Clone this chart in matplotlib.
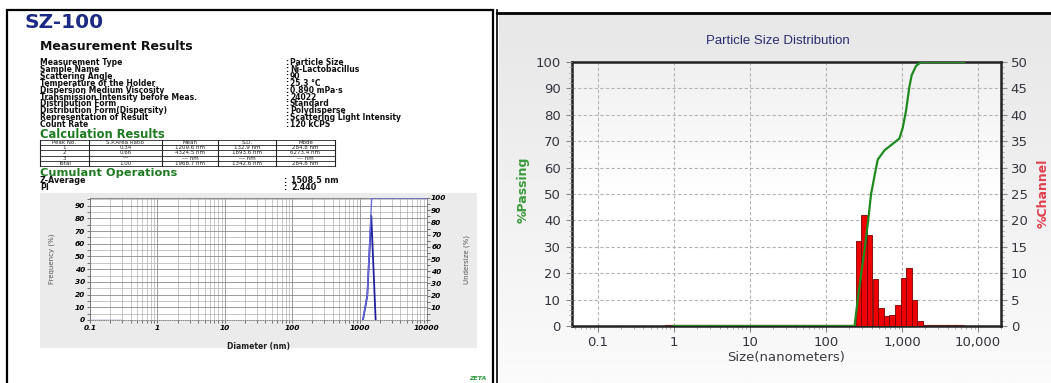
import numpy as np
import matplotlib
matplotlib.use("Agg")
import matplotlib.pyplot as plt
from matplotlib.patches import Rectangle
from matplotlib.lines import Line2D
from matplotlib.colors import LinearSegmentedColormap
from matplotlib.ticker import FixedLocator, NullFormatter, MultipleLocator

# ---------------- SZ-100 report ----------------
report_title = "SZ-100"
meas_keys = ["Measurement Type", "Sample Name", "Scattering Angle",
             "Temperature of the Holder", "Dispersion Medium Viscosity",
             "Transmission Intensity before Meas.", "Distribution Form",
             "Distribution Form(Dispersity)", "Representation of Result",
             "Count Rate"]
meas_values = ["Particle Size", "Ni-Lactobacillus", "90", "25.3 °C",
               "0.890 mPa·s", "24022", "Standard", "Polydisperse",
               "Scattering Light Intensity", "120 kCPS"]
table_header = ["Peak No.", "S.P.Area Ratio", "Mean", "S.D.", "Mode"]
table_rows = [["1", "0.34", "1209.6 nm", "132.9 nm", "284.8 nm"],
              ["2", "0.66", "4324.5 nm", "1893.6 nm", "6273.4 nm"],
              ["3", "---", "--- nm", "--- nm", "--- nm"],
              ["Total", "1.00", "1968.7 nm", "1342.6 nm", "284.8 nm"]]
cumulant_keys = ["Z-Average", "PI"]
cumulant_values = ["1508.5 nm", "2.440"]

# SZ-100 distribution (diameter in nm)
sz_freq_low_d = [0.1, 0.29]
sz_freq_low = [0, 0]
sz_freq_d = [1120, 1300, 1490, 1730]
sz_freq = [0, 19, 82, 0]
sz_under_d = [1120, 1300, 1510, 10000]
sz_under = [0, 20, 100, 100]
sz_xticks = [0.1, 1, 10, 100, 1000, 10000]
sz_xticklabels = ["0.1", "1", "10", "100", "1000", "10000"]

# ---------------- Particle size distribution ----------------
chan_size = [268, 318, 376, 446, 528, 626, 741, 878, 1040, 1232, 1459, 1728]
chan_pct = [16.1, 21.0, 17.2, 8.9, 3.5, 1.8, 2.1, 4.0, 9.1, 10.9, 4.9, 0.9]
chan_range = [0.8, 6600]
pass_size = [1, 238, 262, 291, 326, 359, 392, 433, 479, 586, 793, 923,
             1021, 1129, 1248, 1340, 1528, 1778, 6600]
pass_pct = [0, 0, 10, 20, 30, 40, 50, 56.5, 63, 66.5, 69.5, 71,
            75, 81.5, 90.5, 95, 98.5, 100, 100]
psd_xticks = [0.1, 1, 10, 100, 1000, 10000]
psd_xticklabels = ["0.1", "1", "10", "100", "1,000", "10,000"]

W, H = 1051, 383
fig = plt.figure(figsize=(W / 100, H / 100), dpi=100)
fig.patch.set_facecolor("white")


def fx(x):
    return x / W


def fy(y):
    return 1 - y / H


def ftext(x, y, s, **kw):
    kw.setdefault("va", "center")
    kw.setdefault("family", "DejaVu Sans")
    fig.text(fx(x), fy(y), s, **kw)


def fline(xs, ys, **kw):
    fig.add_artist(Line2D([fx(v) for v in xs], [fy(v) for v in ys],
                          transform=fig.transFigure, **kw))


# ---- report page frame ----
fig.add_artist(Rectangle((fx(7), fy(386)), fx(493) - fx(7), fy(10) - fy(386),
                         fill=False, ec="black", lw=1.6,
                         transform=fig.transFigure))
fline([497, 497], [10, 386], color="black", lw=1.2)

ftext(24, 22, report_title, fontsize=14.5, weight="bold", color="#1c2a86")
ftext(40, 47, "Measurement Results", fontsize=9, weight="bold", color="#111111")
for i, (k, v) in enumerate(zip(meas_keys, meas_values)):
    y = 62.5 + 6.9 * i
    ftext(40, y, k, fontsize=5.5, weight="bold", color="#111111")
    ftext(285, y, ":", fontsize=5.5, weight="bold", color="#111111")
    ftext(290, y, v, fontsize=5.5, weight="bold", color="#111111")

ftext(40, 135, "Calculation Results", fontsize=8.3, weight="bold",
      color="#1f7a22")

# results table
col_x = [40, 89, 162, 218, 276, 335]
row_y = [140, 145.2, 150.4, 155.6, 160.8, 166]
for x in col_x:
    fline([x, x], [row_y[0], row_y[-1]], color="#222222", lw=0.8)
for y in row_y:
    fline([col_x[0], col_x[-1]], [y, y], color="#222222", lw=0.6)
for r, row in enumerate([table_header] + table_rows):
    yc = (row_y[r] + row_y[r + 1]) / 2
    for c, cell in enumerate(row):
        xc = (col_x[c] + col_x[c + 1]) / 2
        ftext(xc, yc, cell, fontsize=4, ha="center", color="#222222")

ftext(40, 172.5, "Cumulant Operations", fontsize=8.2, weight="bold",
      color="#1f7a22")
for i, (k, v) in enumerate(zip(cumulant_keys, cumulant_values)):
    y = 180.5 + 7 * i
    ftext(40, y, k, fontsize=5.8, weight="bold", color="#111111")
    ftext(283, y, ":", fontsize=5.8, weight="bold", color="#111111")
    ftext(291, y, v, fontsize=5.8, weight="bold", color="#111111")

ftext(478, 379, "ZETA", fontsize=4.5, weight="bold", style="italic",
      color="#2a9a3a", ha="center")

# report chart
fig.add_artist(Rectangle((fx(40), fy(348)), fx(477) - fx(40), fy(193) - fy(348),
                         fc="#ebebeb", ec="none", transform=fig.transFigure,
                         zorder=0))
axr = fig.add_axes([fx(90), fy(320), fx(427) - fx(90), fy(198) - fy(320)])
axr.set_facecolor("white")
axr.set_xscale("log")
axr.set_xlim(0.1, 10000)
axr.set_ylim(0, 96)
axr.xaxis.set_minor_locator(FixedLocator(
    [m * 10.0 ** e for e in range(-1, 4) for m in range(2, 10)]))
axr.xaxis.set_minor_formatter(NullFormatter())
axr.set_xticks(sz_xticks)
axr.set_xticklabels(sz_xticklabels)
axr.set_yticks(np.arange(0, 100, 10))
axr.yaxis.set_minor_locator(MultipleLocator(5))
axr.grid(True, which="major", color="#8a8a8a", lw=0.6)
axr.grid(True, which="minor", color="#a8a8a8", lw=0.45)
axr.tick_params(axis="both", which="both", length=2, width=0.5,
                color="#444444", pad=1.5)
for s in ["top", "bottom", "left", "right"]:
    axr.spines[s].set_color("#777777")
    axr.spines[s].set_linewidth(0.6)
axr.spines["bottom"].set_linestyle(":")
axr.plot(sz_freq_low_d, sz_freq_low, color="#5b5bd0", lw=1.0)
axr.plot(sz_freq_d, sz_freq, color="#2020a0", lw=1.3)
axr.set_xlabel("Diameter (nm)", fontsize=5.5, weight="bold", color="#222222",
               labelpad=8)

axr2 = axr.twinx()
axr2.set_ylim(0, 100)
axr2.set_yticks(np.arange(10, 101, 10))
axr2.yaxis.set_minor_locator(MultipleLocator(5))
axr2.tick_params(axis="y", which="both", length=2, width=0.5,
                 color="#444444", pad=1)
for s in axr2.spines.values():
    s.set_visible(False)
axr2.plot(sz_under_d, sz_under, color="#6a6ad8", lw=1.0)
axr.set_ylabel("Frequency (%)", fontsize=5, color="#555555", labelpad=14)
axr2.set_ylabel("Undersize (%)", fontsize=5, color="#555555", rotation=90,
                labelpad=12)
for t in (axr.get_xticklabels() + axr.get_yticklabels()
          + axr2.get_yticklabels()):
    t.set_fontsize(5.3)
    t.set_fontweight("bold")
    t.set_fontstyle("italic")

# ---- PSD panel ----
fline([497, 1051], [12.5, 12.5], color="black", lw=2.0)
bg = fig.add_axes([fx(499), 0, 1 - fx(499), fy(14)])
grad = np.linspace(0, 1, 256).reshape(-1, 1)
bg.imshow(grad, cmap=LinearSegmentedColormap.from_list(
    "bgc", ["#e7e7e7", "#fbfbfb"]), aspect="auto", extent=[0, 1, 0, 1])
bg.set_axis_off()

ax = fig.add_axes([fx(572), fy(326), fx(1001) - fx(572), fy(62) - fy(326)])
axp = ax.twinx()

ax.set_facecolor("white")
ax.imshow(grad, cmap=LinearSegmentedColormap.from_list(
    "inner", ["#f0f0f0", "#ffffff", "#ffffff"]), aspect="auto",
    extent=[0, 1, 0, 1], transform=ax.transAxes, zorder=0)
ax.set_xscale("log")
ax.set_xlim(0.046, 20000)
ax.set_ylim(0, 50)

# channel bars, each spanning half a step either side in log space
step = np.median(np.diff(np.log10(chan_size)))
left = np.array(chan_size) / 10 ** (step / 2)
right = np.array(chan_size) * 10 ** (step / 2)
ax.plot(chan_range, [0, 0], color="#e83030", lw=1.6, zorder=2)
ax.bar(left, chan_pct, width=right - left, align="edge", color="#ee0000",
       edgecolor="#7a0000", linewidth=0.6, zorder=3)

ax.set_xticks(psd_xticks)
ax.set_xticklabels(psd_xticklabels)
ax.xaxis.set_minor_locator(FixedLocator(
    [m * 10.0 ** e for e in range(-2, 5) for m in range(2, 10)]))
ax.xaxis.set_minor_formatter(NullFormatter())
ax.set_yticks(np.arange(0, 51, 5))
ax.yaxis.set_minor_locator(MultipleLocator(1))
ax.grid(True, which="major", color="#b4b4b4", lw=0.8, ls=(0, (3, 2)))
for s in ax.spines.values():
    s.set_color("#222222")
    s.set_linewidth(1.8)
ax.tick_params(axis="both", which="major", length=4, width=0.8,
               color="#888888", labelsize=9.5, labelcolor="#34343e", pad=3)
ax.tick_params(axis="both", which="minor", length=2, width=0.6,
               color="#999999")
ax.yaxis.tick_right()
ax.tick_params(axis="y", pad=3)
ax.set_xlabel("Size(nanometers)", fontsize=9.5, color="#3a3a44", labelpad=2)

axp.set_ylim(0, 100)
axp.yaxis.tick_left()
axp.set_yticks(np.arange(0, 101, 10))
axp.yaxis.set_minor_locator(MultipleLocator(2))
axp.tick_params(axis="y", which="major", length=4, width=0.8,
                color="#888888", labelsize=9.5, labelcolor="#34343e", pad=4)
axp.tick_params(axis="y", which="minor", length=2, width=0.6, color="#999999")
for s in axp.spines.values():
    s.set_visible(False)
axp.plot(pass_size, pass_pct, color="#1f8a1f", lw=1.6, zorder=5)

ftext(523, 190, "%Passing", fontsize=9, weight="bold", color="#3a9a3a",
      rotation=90, ha="center")
ftext(1043, 193, "%Channel", fontsize=9, weight="bold", color="#e04050",
      rotation=90, ha="center")
fig.text(fx(778), fy(41), "Particle Size Distribution", ha="center",
         va="center", fontsize=9.5, color="#2b2b72", family="Liberation Sans")

fig.savefig("out.png", dpi=100)
